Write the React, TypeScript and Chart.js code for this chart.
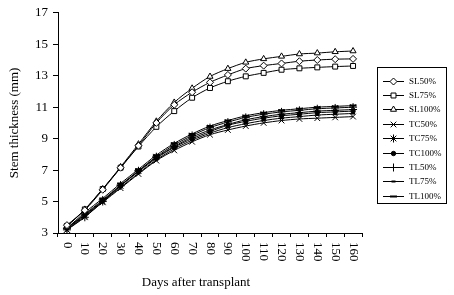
import React, { useEffect, useRef } from 'react';
import Chart from 'chart.js/auto';

const days = ['0', '10', '20', '30', '40', '50', '60', '70', '80', '90', '100', '110', '120', '130', '140', '150', '160'];

const SL50 = [3.5, 4.45, 5.75, 7.15, 8.55, 10.0, 11.15, 11.95, 12.58, 13.05, 13.45, 13.64, 13.78, 13.92, 14.0, 14.05, 14.07];
const SL75 = [3.45, 4.5, 5.8, 7.15, 8.5, 9.75, 10.75, 11.6, 12.22, 12.65, 12.96, 13.18, 13.38, 13.47, 13.53, 13.58, 13.62];
const SL100 = [3.4, 4.5, 5.8, 7.2, 8.65, 10.1, 11.3, 12.2, 12.95, 13.45, 13.85, 14.07, 14.23, 14.38, 14.44, 14.52, 14.57];
const TC50 = [3.2, 4.05, 4.95, 5.85, 6.75, 7.6, 8.25, 8.8, 9.25, 9.55, 9.8, 10.0, 10.15, 10.25, 10.3, 10.35, 10.4];
const TC75 = [3.2, 4.0, 5.0, 6.0, 6.95, 7.85, 8.6, 9.2, 9.7, 10.05, 10.35, 10.55, 10.7, 10.8, 10.9, 10.95, 11.0];
const TC100 = [3.3, 4.15, 5.05, 6.0, 6.9, 7.75, 8.45, 9.0, 9.45, 9.85, 10.1, 10.3, 10.45, 10.55, 10.65, 10.7, 10.75];
const TL50 = [3.3, 4.2, 5.1, 6.05, 6.95, 7.8, 8.5, 9.1, 9.55, 9.9, 10.2, 10.4, 10.55, 10.65, 10.75, 10.8, 10.85];
const TL75 = [3.25, 4.1, 5.0, 5.9, 6.8, 7.65, 8.35, 8.9, 9.35, 9.7, 9.95, 10.15, 10.3, 10.4, 10.5, 10.55, 10.6];
const TL100 = [3.3, 4.3, 5.2, 6.15, 7.05, 7.95, 8.7, 9.3, 9.8, 10.15, 10.45, 10.65, 10.8, 10.9, 11.0, 11.05, 11.1];

const seriesNames = ['SL50%', 'SL75%', 'SL100%', 'TC50%', 'TC75%', 'TC100%', 'TL50%', 'TL75%', 'TL100%'];
const seriesValues = [SL50, SL75, SL100, TC50, TC75, TC100, TL50, TL75, TL100];

const yTitle = 'Stem thickness (mm)';
const xTitle = 'Days after transplant';

const FONT = '"Liberation Serif", "Times New Roman", serif';

const markerCfg = [
  { style: 'rectRot', r: 3.5, fill: '#fff' },
  { style: 'rect', r: 3.5, fill: '#fff' },
  { style: 'triangle', r: 3.5, fill: '#fff' },
  { style: 'crossRot', r: 4, fill: '#000' },
  { style: 'star', r: 4, fill: '#000' },
  { style: 'circle', r: 2.2, fill: '#000' },
  { style: 'cross', r: 4, fill: '#000' },
  { style: 'line', r: 2, fill: '#000' },
  { style: 'line', r: 3.5, fill: '#000' },
];

function drawMarker(ctx: CanvasRenderingContext2D, style: string, x: number, y: number, r: number, fill: string) {
  ctx.save();
  ctx.strokeStyle = '#000';
  ctx.fillStyle = fill;
  ctx.lineWidth = 1;
  ctx.beginPath();
  const s = Math.SQRT1_2 * r;
  switch (style) {
    case 'rectRot':
      ctx.moveTo(x, y - r); ctx.lineTo(x + r, y); ctx.lineTo(x, y + r); ctx.lineTo(x - r, y); ctx.closePath();
      ctx.fill(); ctx.stroke(); break;
    case 'rect':
      ctx.rect(x - s, y - s, 2 * s, 2 * s); ctx.fill(); ctx.stroke(); break;
    case 'triangle':
      ctx.moveTo(x, y - r); ctx.lineTo(x + r * 0.87, y + r * 0.5); ctx.lineTo(x - r * 0.87, y + r * 0.5); ctx.closePath();
      ctx.fill(); ctx.stroke(); break;
    case 'crossRot':
      ctx.moveTo(x - s, y - s); ctx.lineTo(x + s, y + s); ctx.moveTo(x + s, y - s); ctx.lineTo(x - s, y + s); ctx.stroke(); break;
    case 'star':
      ctx.moveTo(x - s, y - s); ctx.lineTo(x + s, y + s); ctx.moveTo(x + s, y - s); ctx.lineTo(x - s, y + s);
      ctx.moveTo(x, y - r); ctx.lineTo(x, y + r); ctx.stroke(); break;
    case 'circle':
      ctx.arc(x, y, r, 0, Math.PI * 2); ctx.fill(); ctx.stroke(); break;
    case 'cross':
      ctx.moveTo(x, y - r); ctx.lineTo(x, y + r); ctx.moveTo(x - r, y); ctx.lineTo(x + r, y); ctx.stroke(); break;
    case 'line':
      ctx.lineWidth = 2; ctx.moveTo(x - r, y); ctx.lineTo(x + r, y); ctx.stroke(); break;
  }
  ctx.restore();
}

const customPlugin = {
  id: 'customDraw',
  afterDraw(chart: any) {
    const ctx: CanvasRenderingContext2D = chart.ctx;
    const xs = chart.scales.x;
    const ys = chart.scales.y;
    ctx.save();
    // x tick labels, rotated clockwise
    ctx.fillStyle = '#000';
    ctx.font = `13px ${FONT}`;
    ctx.textAlign = 'left';
    ctx.textBaseline = 'middle';
    days.forEach((d, i) => {
      const px = xs.getPixelForValue(i);
      ctx.save();
      ctx.translate(px, xs.top + 9);
      ctx.rotate(Math.PI / 2);
      ctx.fillText(d, 0, 0);
      ctx.restore();
    });
    // x title
    ctx.textAlign = 'center';
    ctx.textBaseline = 'middle';
    ctx.fillText(xTitle, 196, 283);
    // y title
    ctx.save();
    ctx.translate(15, (ys.top + ys.bottom) / 2);
    ctx.rotate(-Math.PI / 2);
    ctx.fillText(yTitle, 0, 0);
    ctx.restore();
    // legend
    const bx = 377.5, by = 67.5, bw = 69, bh = 136;
    ctx.strokeStyle = '#000';
    ctx.lineWidth = 1;
    ctx.strokeRect(bx, by, bw, bh);
    ctx.font = `9px ${FONT}`;
    ctx.textAlign = 'left';
    seriesNames.forEach((name, i) => {
      const y = Math.round(80.5 + i * 14.4) + 0.5;
      ctx.beginPath();
      ctx.moveTo(383, y);
      ctx.lineTo(404, y);
      ctx.strokeStyle = '#000';
      ctx.lineWidth = 1;
      ctx.stroke();
      const m = markerCfg[i];
      drawMarker(ctx, m.style, 393.5, y, m.r, m.fill);
      ctx.fillStyle = '#000';
      ctx.fillText(name, 409, y);
    });
    ctx.restore();
  },
};

export default function App() {
  const ref = useRef<HTMLCanvasElement>(null);
  useEffect(() => {
    document.body.style.margin = '0';
    const datasets = seriesNames.map((name, i) => ({
      label: name,
      data: seriesValues[i],
      borderColor: '#000',
      borderWidth: 1,
      backgroundColor: markerCfg[i].fill,
      pointStyle: markerCfg[i].style as any,
      pointRadius: markerCfg[i].r,
      pointBorderColor: '#000',
      pointBackgroundColor: markerCfg[i].fill,
      pointBorderWidth: markerCfg[i].style === 'line' ? 2 : 1,
      tension: 0.3,
      fill: false,
    }));
    const chart = new Chart(ref.current!, {
      type: 'line',
      data: { labels: days, datasets },
      options: {
        responsive: false,
        animation: false,
        devicePixelRatio: 1,
        layout: { padding: { top: 7, right: 92, left: 0, bottom: 0 } },
        plugins: { legend: { display: false }, tooltip: { enabled: false } },
        scales: {
          x: {
            type: 'category',
            offset: true,
            grid: { offset: true, drawOnChartArea: false, drawTicks: true, tickLength: 4, color: '#000' },
            border: { color: '#000', width: 1 },
            ticks: { display: false },
            afterFit: (s: any) => { s.height = 62; },
          },
          y: {
            min: 3,
            max: 17,
            grid: { drawOnChartArea: false, drawTicks: true, tickLength: 5, color: '#000' },
            border: { color: '#000', width: 1 },
            ticks: { stepSize: 2, color: '#000', padding: 5, font: { family: FONT, size: 13 } },
            afterFit: (s: any) => { s.width = 58; },
          },
        },
      },
      plugins: [customPlugin],
    });
    return () => chart.destroy();
  }, []);
  return (
    <div style={{ position: 'absolute', left: 0, top: 0, width: 454, height: 295, background: '#fff' }}>
      <canvas ref={ref} width={454} height={295} style={{ display: 'block' }} />
    </div>
  );
}
